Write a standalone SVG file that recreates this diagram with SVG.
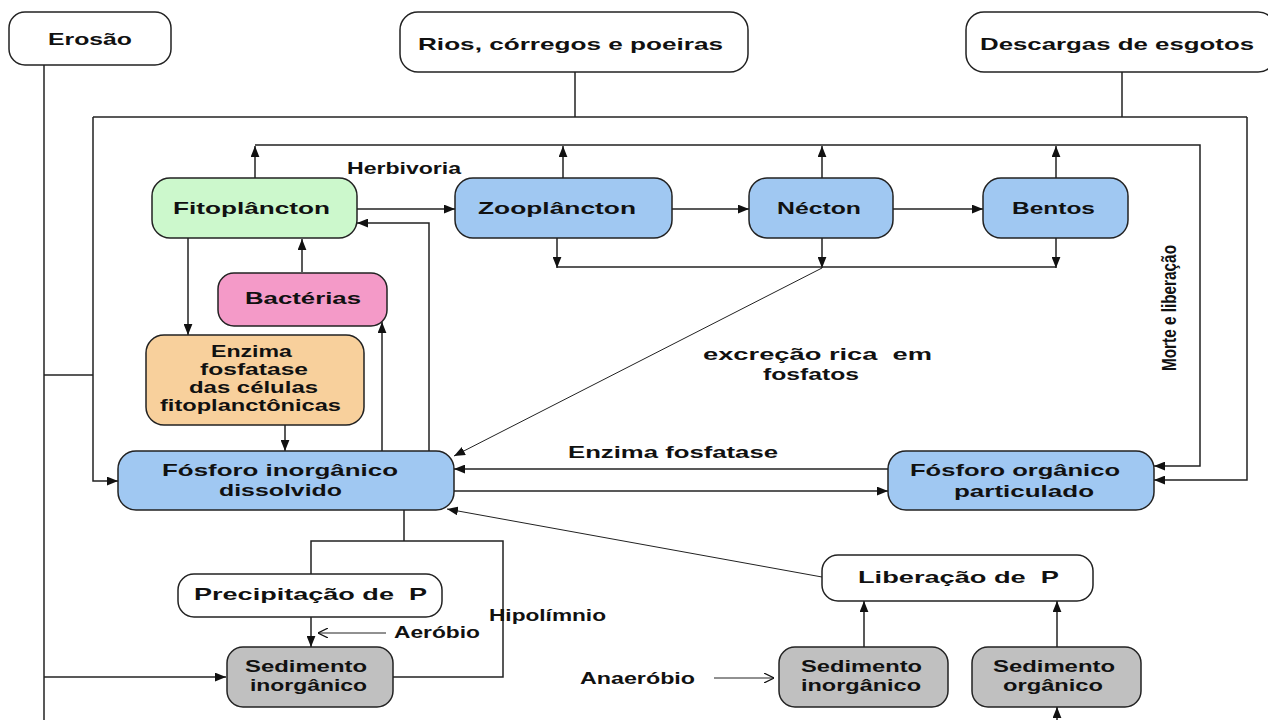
<svg xmlns="http://www.w3.org/2000/svg" width="1268" height="720" viewBox="0 0 1268 720">
<defs>
<style>
.box{stroke:#222;stroke-width:1.5}
.w{fill:#fff}
.g{fill:#ccf8cc}
.b{fill:#a0c8f2}
.p{fill:#f49ac8}
.o{fill:#f8d09c}
.s{fill:#c0c0c0}
text{font-family:"Liberation Sans",Arial,sans-serif;font-weight:bold;font-size:17px;fill:#111;white-space:pre}
.n{font-family:"Liberation Sans Narrow","Liberation Sans",Arial,sans-serif;font-size:16px}
.v{font-family:"Liberation Sans Narrow","Liberation Sans",Arial,sans-serif;font-size:20px}
.c line,.c path,.c polyline{stroke:#222;stroke-width:1.5;fill:none}
.c .thin{stroke-width:1}
</style>
<marker id="ar" viewBox="0 0 10 8" refX="10" refY="4" markerWidth="11" markerHeight="9" markerUnits="userSpaceOnUse" orient="auto"><path d="M0,0 L10,4 L0,8 z" fill="#111"/></marker>
<marker id="op" viewBox="0 0 10 10" refX="10" refY="5" markerWidth="10" markerHeight="10" markerUnits="userSpaceOnUse" orient="auto"><path d="M0,0 L10,5 L0,10" fill="none" stroke="#111" stroke-width="1.2"/></marker>
</defs>
<rect width="1268" height="720" fill="#fff"/>

<g class="c" id="connectors">
<path d="M44,65 V720"/>
<path d="M44,375 H93"/>
<path d="M44,677 H226" marker-end="url(#ar)"/>
<path d="M575,72 V117"/>
<path d="M1122,72 V117"/>
<path d="M93,117 H1247"/>
<path d="M93,117 V481 H118" marker-end="url(#ar)"/>
<path d="M1247,117 V480 H1154" marker-end="url(#ar)"/>
<path d="M255,145 H1200 V466 H1154" marker-end="url(#ar)"/>
<path d="M255,178 V146" marker-end="url(#ar)"/>
<path d="M563,178 V146" marker-end="url(#ar)"/>
<path d="M822,178 V146" marker-end="url(#ar)"/>
<path d="M1056,178 V146" marker-end="url(#ar)"/>
<path d="M357,209 H455" marker-end="url(#ar)"/>
<path d="M672,209 H749" marker-end="url(#ar)"/>
<path d="M893,209 H983" marker-end="url(#ar)"/>
<path d="M557,238 V268" marker-end="url(#ar)"/>
<path d="M822,238 V268" marker-end="url(#ar)"/>
<path d="M1056,238 V268" marker-end="url(#ar)"/>
<path d="M557,267 H1056"/>
<path class="thin" d="M822,268 L454,456" marker-end="url(#ar)"/>
<path d="M429,451 V223 H357" marker-end="url(#ar)"/>
<path d="M188,238 V335" marker-end="url(#ar)"/>
<path d="M302,272 V239" marker-end="url(#ar)"/>
<path d="M285,425 V451" marker-end="url(#ar)"/>
<path d="M382,451 V322" marker-end="url(#ar)"/>
<path d="M888,469 H454" marker-end="url(#ar)"/>
<path d="M454,491 H888" marker-end="url(#ar)"/>
<path d="M404,510 V541"/>
<path d="M311,574 V541 H503 V677 H393"/>
<path d="M311,617 V647" marker-end="url(#ar)"/>
<path class="thin" d="M386,633 H318" marker-end="url(#op)"/>
<path class="thin" d="M822,577 L447,509" marker-end="url(#ar)"/>
<path d="M864,647 V601" marker-end="url(#ar)"/>
<path d="M1057,647 V601" marker-end="url(#ar)"/>
<path d="M1057,720 V707" marker-end="url(#ar)"/>
<path class="thin" d="M714,678 H774" marker-end="url(#op)"/>
</g>

<g id="erosao"><rect class="box w" x="9" y="12" width="162" height="53" rx="16"/><text x="48" y="45" textLength="84" lengthAdjust="spacingAndGlyphs">Erosão</text></g>
<g id="rios"><rect class="box w" x="400" y="12" width="348" height="60" rx="18"/><text x="418" y="50" textLength="305" lengthAdjust="spacingAndGlyphs">Rios, córregos e poeiras</text></g>
<g id="descargas"><rect class="box w" x="966" y="12" width="310" height="60" rx="18"/><text x="980" y="50" textLength="274" lengthAdjust="spacingAndGlyphs">Descargas de esgotos</text></g>

<g id="fito"><rect class="box g" x="152" y="178" width="205" height="60" rx="18"/><text x="173" y="214" textLength="157" lengthAdjust="spacingAndGlyphs">Fitoplâncton</text></g>
<g id="zoo"><rect class="box b" x="455" y="178" width="217" height="60" rx="18"/><text x="478" y="214" textLength="158" lengthAdjust="spacingAndGlyphs">Zooplâncton</text></g>
<g id="necton"><rect class="box b" x="749" y="178" width="144" height="60" rx="18"/><text x="777" y="214" textLength="84" lengthAdjust="spacingAndGlyphs">Nécton</text></g>
<g id="bentos"><rect class="box b" x="983" y="178" width="145" height="60" rx="18"/><text x="1012" y="214" textLength="83" lengthAdjust="spacingAndGlyphs">Bentos</text></g>

<g id="bacterias"><rect class="box p" x="218" y="273" width="169" height="53" rx="16"/><text x="245" y="304" textLength="116" lengthAdjust="spacingAndGlyphs">Bactérias</text></g>
<g id="enzima"><rect class="box o" x="146" y="335" width="218" height="90" rx="18"/>
<text x="211" y="357" textLength="81" lengthAdjust="spacingAndGlyphs">Enzima</text>
<text x="200" y="375" textLength="108" lengthAdjust="spacingAndGlyphs">fosfatase</text>
<text x="189" y="393" textLength="129" lengthAdjust="spacingAndGlyphs">das células</text>
<text x="160" y="411" textLength="181" lengthAdjust="spacingAndGlyphs">fitoplanctônicas</text></g>

<g id="fosforo-inorg"><rect class="box b" x="118" y="451" width="336" height="59" rx="18"/>
<text x="162" y="476" textLength="236" lengthAdjust="spacingAndGlyphs">Fósforo inorgânico</text>
<text x="219" y="496" textLength="123" lengthAdjust="spacingAndGlyphs">dissolvido</text></g>
<g id="fosforo-org"><rect class="box b" x="888" y="451" width="266" height="59" rx="18"/>
<text x="910" y="476" textLength="210" lengthAdjust="spacingAndGlyphs">Fósforo orgânico</text>
<text x="954" y="497" textLength="140" lengthAdjust="spacingAndGlyphs">particulado</text></g>

<g id="precipitacao"><rect class="box w" x="178" y="574" width="264" height="43" rx="16"/><text x="194" y="600" textLength="233" lengthAdjust="spacingAndGlyphs">Precipitação de  P</text></g>
<g id="sed-inorg-1"><rect class="box s" x="227" y="647" width="166" height="60" rx="16"/>
<text x="245" y="672" textLength="122" lengthAdjust="spacingAndGlyphs">Sedimento</text>
<text x="250" y="691" textLength="117" lengthAdjust="spacingAndGlyphs">inorgânico</text></g>
<g id="liberacao"><rect class="box w" x="822" y="555" width="271" height="46" rx="16"/><text x="858" y="583" textLength="201" lengthAdjust="spacingAndGlyphs">Liberação de  P</text></g>
<g id="sed-inorg-2"><rect class="box s" x="779" y="647" width="169" height="60" rx="16"/>
<text x="801" y="672" textLength="121" lengthAdjust="spacingAndGlyphs">Sedimento</text>
<text x="801" y="691" textLength="120" lengthAdjust="spacingAndGlyphs">inorgânico</text></g>
<g id="sed-org"><rect class="box s" x="972" y="647" width="169" height="60" rx="16"/>
<text x="993" y="672" textLength="122" lengthAdjust="spacingAndGlyphs">Sedimento</text>
<text x="1003" y="691" textLength="100" lengthAdjust="spacingAndGlyphs">orgânico</text></g>

<g id="labels">
<text class="n" x="347" y="174" textLength="114" lengthAdjust="spacingAndGlyphs">Herbivoria</text>
<text x="703" y="360" textLength="229" lengthAdjust="spacingAndGlyphs">excreção rica  em</text>
<text x="763" y="380" textLength="96" lengthAdjust="spacingAndGlyphs">fosfatos</text>
<text x="568" y="458" textLength="210" lengthAdjust="spacingAndGlyphs">Enzima fosfatase</text>
<text class="v" transform="translate(1176,371) rotate(-90)" x="0" y="0" textLength="126" lengthAdjust="spacingAndGlyphs">Morte e liberação</text>
<text x="394" y="638" textLength="86" lengthAdjust="spacingAndGlyphs">Aeróbio</text>
<text class="n" x="489" y="621" textLength="117" lengthAdjust="spacingAndGlyphs">Hipolímnio</text>
<text x="580" y="684" textLength="115" lengthAdjust="spacingAndGlyphs">Anaeróbio</text>
</g>
</svg>
